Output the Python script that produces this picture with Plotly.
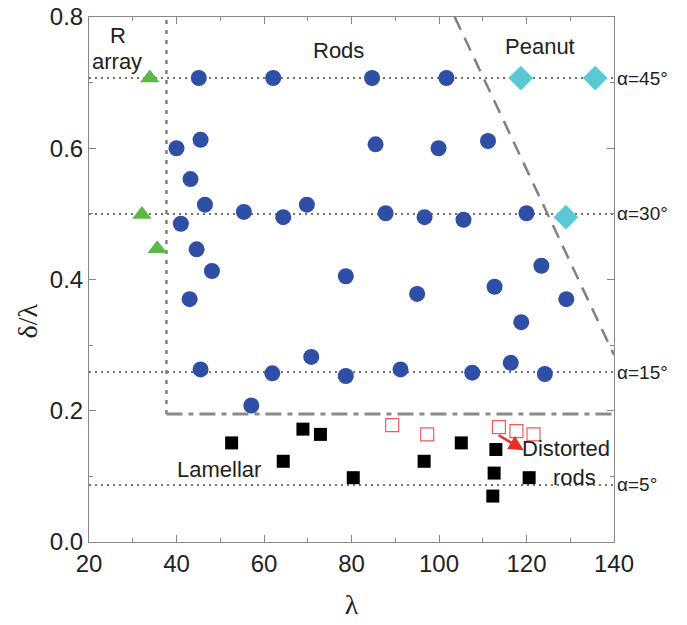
import plotly.graph_objects as go

# ---------------- data ----------------
rarray_x = [33.9, 32.1, 35.6]
rarray_y = [0.707, 0.499, 0.447]

rods_x = [45.1, 62.1, 84.7, 101.7,
          40.0, 45.5, 85.5, 99.9, 111.2,
          43.2, 46.5, 55.4, 64.4, 69.8, 41.0, 87.8, 96.7, 105.6, 120.0,
          44.6, 48.1, 43.0, 78.7, 95.0, 112.7, 123.4, 129.1, 118.8,
          45.5, 61.9, 70.8, 78.7, 57.1, 91.2, 107.6, 116.4, 124.2]
rods_y = [0.707, 0.707, 0.707, 0.707,
          0.600, 0.613, 0.606, 0.600, 0.611,
          0.553, 0.514, 0.503, 0.495, 0.514, 0.485, 0.501, 0.495, 0.491, 0.501,
          0.446, 0.413, 0.370, 0.405, 0.378, 0.389, 0.421, 0.370, 0.335,
          0.263, 0.257, 0.282, 0.253, 0.208, 0.263, 0.258, 0.273, 0.256]

peanut_x = [118.7, 135.7, 129.0]
peanut_y = [0.707, 0.707, 0.495]

lamellar_x = [52.6, 64.4, 68.9, 72.9, 80.4, 96.6, 105.1, 113.0, 112.6, 112.3, 120.6]
lamellar_y = [0.151, 0.123, 0.172, 0.164, 0.098, 0.123, 0.151, 0.141, 0.105, 0.070, 0.098]

distorted_x = [89.3, 97.3, 113.7, 117.7, 121.6]
distorted_y = [0.178, 0.164, 0.175, 0.169, 0.164]

alpha_labels = ["α=45°", "α=30°", "α=15°", "α=5°"]
alpha_y = [0.707, 0.500, 0.259, 0.087]
alpha_line_x = [20, 140]

rarray_bound_x = [37.7, 37.7]
rarray_bound_y = [0.195, 0.8]
lamellar_bound_x = [37.7, 140]
lamellar_bound_y = [0.195, 0.195]
peanut_bound_x = [103.6, 140]
peanut_bound_y = [0.8, 0.285]

region_labels = ["R", "array", "Rods", "Peanut", "Lamellar", "Distorted", "rods"]
region_x = [26.7, 26.3, 77.0, 123.0, 49.7, 129.1, 131.0]
region_y = [0.772, 0.732, 0.749, 0.755, 0.111, 0.142, 0.099]

arrow_tail = (113.3, 0.164)
arrow_head = (119.4, 0.140)

y_title = "δ/λ"
x_title = "λ"

# ---------------- figure ----------------
fig = go.Figure()

for yv in alpha_y:
    fig.add_trace(go.Scatter(x=alpha_line_x, y=[yv, yv], mode="lines",
                             line=dict(color="#444444", width=1.5, dash="2px,4px"),
                             hoverinfo="skip", showlegend=False))

fig.add_trace(go.Scatter(x=rarray_bound_x, y=rarray_bound_y, mode="lines",
                         line=dict(color="#808080", width=2.5, dash="4px,6px"),
                         hoverinfo="skip", showlegend=False))
fig.add_trace(go.Scatter(x=lamellar_bound_x, y=lamellar_bound_y, mode="lines",
                         line=dict(color="#8a8a8a", width=3, dash="16px,6px,5px,6px"),
                         hoverinfo="skip", showlegend=False))
fig.add_trace(go.Scatter(x=peanut_bound_x, y=peanut_bound_y, mode="lines",
                         line=dict(color="#808080", width=2.5, dash="14px,9px"),
                         hoverinfo="skip", showlegend=False))

fig.add_trace(go.Scatter(x=rarray_x, y=rarray_y, mode="markers", name="R array",
                         marker=dict(symbol="triangle-up", size=17, color="#5CB848")))
fig.add_trace(go.Scatter(x=rods_x, y=rods_y, mode="markers", name="Rods",
                         marker=dict(symbol="circle", size=16, color="#2F4FA7")))
fig.add_trace(go.Scatter(x=peanut_x, y=peanut_y, mode="markers", name="Peanut",
                         marker=dict(symbol="diamond", size=19, color="#5BC8D6")))
fig.add_trace(go.Scatter(x=lamellar_x, y=lamellar_y, mode="markers", name="Lamellar",
                         marker=dict(symbol="square", size=13, color="#000000")))
fig.add_trace(go.Scatter(x=distorted_x, y=distorted_y, mode="markers", name="Distorted rods",
                         marker=dict(symbol="square-open", size=13, color="#EE5A5A",
                                     line=dict(width=1.2))))

annotations = []
for lab, yv in zip(alpha_labels, alpha_y):
    annotations.append(dict(x=140, y=yv, xref="x", yref="y", text=lab, showarrow=False,
                            xanchor="left", yanchor="middle", xshift=1,
                            font=dict(family="Liberation Sans", size=19, color="#222222")))
for lab, xv, yv in zip(region_labels, region_x, region_y):
    annotations.append(dict(x=xv, y=yv, xref="x", yref="y", text=lab, showarrow=False,
                            xanchor="center", yanchor="middle",
                            font=dict(family="Liberation Sans", size=22, color="#222222")))
annotations.append(dict(x=arrow_head[0], y=arrow_head[1], ax=arrow_tail[0], ay=arrow_tail[1],
                        xref="x", yref="y", axref="x", ayref="y", text="", showarrow=True,
                        arrowhead=2, arrowsize=1.2, arrowwidth=2.5, arrowcolor="#E8302A"))
annotations.append(dict(x=-0.118, y=0.42, xref="paper", yref="paper", text=y_title,
                        showarrow=False, textangle=-90, xanchor="center", yanchor="middle",
                        font=dict(family="Liberation Serif", size=28, color="#222222")))

axis_common = dict(showgrid=False, zeroline=False, showline=True, linecolor="#888888",
                   linewidth=1, mirror="ticks", ticks="inside", ticklen=7, tickwidth=1,
                   tickcolor="#888888", automargin=False, ticklabeloverflow="allow",
                   tickfont=dict(family="Liberation Sans", size=24, color="#222222"))

fig.update_xaxes(range=[20, 140], dtick=20, tick0=20,
                 minor=dict(ticks="inside", ticklen=4, dtick=10, tickcolor="#888888"),
                 title=dict(text=x_title, font=dict(family="Liberation Serif", size=28, color="#222222"),
                            standoff=18),
                 **axis_common)
fig.update_yaxes(range=[0, 0.8], dtick=0.2, tick0=0, tickformat=".1f",
                 minor=dict(ticks="inside", ticklen=4, dtick=0.1, tickcolor="#888888"),
                 **axis_common)

fig.update_layout(width=687, height=625, margin=dict(l=89, r=73, t=17, b=83),
                  plot_bgcolor="white", paper_bgcolor="white", showlegend=False,
                  annotations=annotations)

fig.write_html("out.html", config={"displayModeBar": False},
               post_script="document.body.style.margin='0';")
